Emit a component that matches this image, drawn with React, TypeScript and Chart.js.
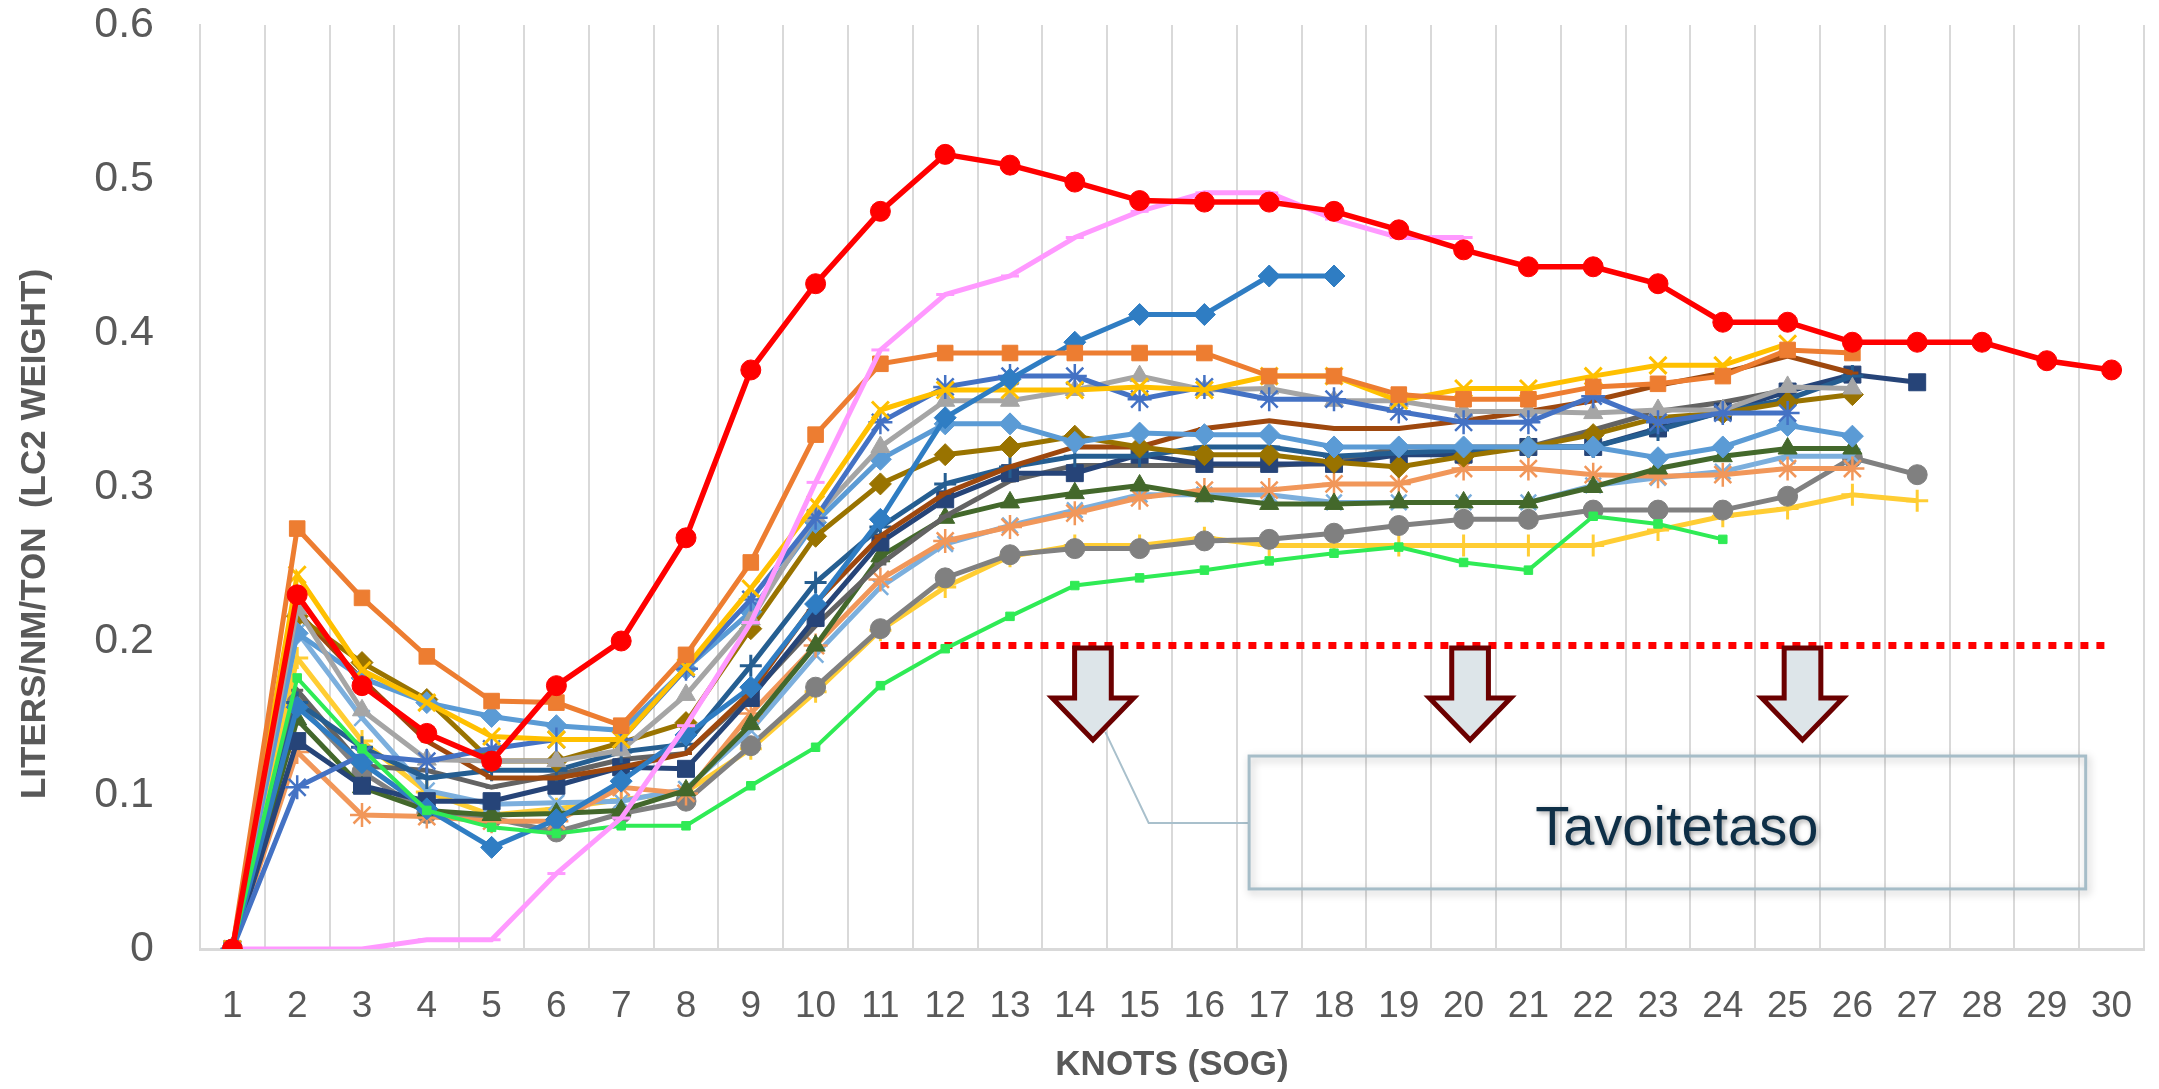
import React, { useEffect, useRef } from 'react';
import { Chart, registerables } from 'chart.js';

Chart.register(...registerables);

// ---------- data ----------
const KNOTS = ['1', '2', '3', '4', '5', '6', '7', '8', '9', '10', '11', '12', '13', '14', '15', '16', '17', '18', '19', '20', '21', '22', '23', '24', '25', '26', '27', '28', '29', '30'];

const redCircle = [0, 0.230, 0.171, 0.140, 0.122, 0.171, 0.200, 0.267, 0.376, 0.432, 0.479, 0.516, 0.509, 0.498, 0.486, 0.485, 0.485, 0.479, 0.467, 0.454, 0.443, 0.443, 0.432, 0.407, 0.407, 0.394, 0.394, 0.394, 0.382, 0.376];
const pinkDash = [0, 0, 0, 0.006, 0.006, 0.049, 0.085, 0.145, 0.212, 0.303, 0.389, 0.425, 0.437, 0.462, 0.479, 0.491, 0.491, 0.474, 0.462, 0.462];
const brightGreen = [0, 0.176, 0.130, 0.090, 0.079, 0.075, 0.080, 0.080, 0.106, 0.131, 0.171, 0.195, 0.216, 0.236, 0.241, 0.246, 0.252, 0.257, 0.261, 0.251, 0.246, 0.281, 0.276, 0.266];
const orangeSquare = [0, 0.273, 0.228, 0.190, 0.161, 0.160, 0.145, 0.191, 0.251, 0.334, 0.380, 0.387, 0.387, 0.387, 0.387, 0.387, 0.372, 0.372, 0.360, 0.357, 0.357, 0.365, 0.367, 0.372, 0.389, 0.387];
const blueDiamond = [0, 0.157, 0.121, 0.091, 0.066, 0.084, 0.109, 0.139, 0.170, 0.224, 0.279, 0.345, 0.370, 0.394, 0.412, 0.412, 0.437, 0.437];
const goldX = [0, 0.243, 0.181, 0.160, 0.138, 0.136, 0.136, 0.183, 0.234, 0.289, 0.350, 0.363, 0.363, 0.363, 0.365, 0.363, 0.372, 0.372, 0.356, 0.364, 0.364, 0.372, 0.379, 0.379, 0.393];
const blueAsterisk = [0, 0.105, 0.126, 0.122, 0.130, 0.136, 0.136, 0.182, 0.227, 0.280, 0.342, 0.365, 0.372, 0.372, 0.357, 0.365, 0.357, 0.357, 0.349, 0.342, 0.342, 0.359, 0.342, 0.348, 0.348];
const grayTriangle = [0, 0.221, 0.155, 0.123, 0.122, 0.122, 0.129, 0.165, 0.214, 0.281, 0.326, 0.356, 0.356, 0.363, 0.372, 0.363, 0.364, 0.356, 0.356, 0.349, 0.349, 0.348, 0.350, 0.350, 0.365, 0.364];
const lightBlueDiamond = [0, 0.205, 0.176, 0.160, 0.151, 0.145, 0.142, 0.182, 0.219, 0.277, 0.318, 0.341, 0.341, 0.329, 0.335, 0.334, 0.334, 0.326, 0.326, 0.326, 0.326, 0.326, 0.319, 0.326, 0.340, 0.333];
const darkGoldDiamond = [0, 0.216, 0.186, 0.162, 0.122, 0.122, 0.134, 0.147, 0.208, 0.268, 0.302, 0.321, 0.326, 0.333, 0.326, 0.321, 0.321, 0.316, 0.313, 0.320, 0.326, 0.334, 0.345, 0.348, 0.355, 0.360];
const brownDash = [0, 0.219, 0.175, 0.135, 0.111, 0.111, 0.118, 0.127, 0.167, 0.225, 0.268, 0.296, 0.313, 0.326, 0.326, 0.338, 0.343, 0.338, 0.338, 0.343, 0.349, 0.356, 0.366, 0.374, 0.385, 0.374];
const darkBluePlus = [0, 0.160, 0.131, 0.111, 0.116, 0.116, 0.128, 0.133, 0.184, 0.238, 0.274, 0.302, 0.313, 0.320, 0.320, 0.326, 0.326, 0.320, 0.322, 0.324, 0.326, 0.326, 0.337, 0.349, 0.357, 0.372];
const navySquare = [0, 0.135, 0.106, 0.096, 0.096, 0.106, 0.118, 0.117, 0.163, 0.215, 0.264, 0.292, 0.309, 0.309, 0.321, 0.315, 0.315, 0.315, 0.321, 0.321, 0.326, 0.326, 0.338, 0.349, 0.362, 0.373, 0.368];
const darkGrayDash = [0, 0.168, 0.119, 0.116, 0.105, 0.113, 0.123, 0.127, 0.165, 0.210, 0.250, 0.281, 0.304, 0.314, 0.314, 0.314, 0.314, 0.316, 0.326, 0.326, 0.326, 0.337, 0.349, 0.355, 0.363];
const darkGreenTriangle = [0, 0.149, 0.105, 0.090, 0.087, 0.088, 0.090, 0.103, 0.146, 0.197, 0.255, 0.280, 0.290, 0.296, 0.301, 0.294, 0.289, 0.289, 0.290, 0.290, 0.290, 0.300, 0.312, 0.320, 0.325, 0.325];
const lightOrangeAsterisk = [0, 0.128, 0.087, 0.086, 0.083, 0.083, 0.105, 0.101, 0.153, 0.197, 0.240, 0.265, 0.274, 0.283, 0.293, 0.298, 0.298, 0.302, 0.302, 0.312, 0.312, 0.308, 0.307, 0.308, 0.312, 0.312];
const lightBlueX = [0, 0.206, 0.150, 0.103, 0.094, 0.095, 0.096, 0.104, 0.142, 0.191, 0.235, 0.263, 0.275, 0.285, 0.295, 0.295, 0.295, 0.290, 0.290, 0.290, 0.290, 0.301, 0.306, 0.310, 0.320, 0.320];
const grayCircle = [0, 0.160, 0.115, 0.088, 0.085, 0.076, 0.088, 0.096, 0.132, 0.170, 0.208, 0.241, 0.256, 0.260, 0.260, 0.265, 0.266, 0.270, 0.275, 0.279, 0.279, 0.285, 0.285, 0.285, 0.294, 0.319, 0.308];
const yellowPlus = [0, 0.189, 0.135, 0.102, 0.087, 0.091, 0.097, 0.102, 0.130, 0.167, 0.207, 0.235, 0.255, 0.262, 0.262, 0.267, 0.262, 0.262, 0.262, 0.262, 0.262, 0.262, 0.272, 0.281, 0.286, 0.295, 0.291];
const targetLevel = [null, null, null, null, null, null, null, null, null, null, 0.197, 0.197, 0.197, 0.197, 0.197, 0.197, 0.197, 0.197, 0.197, 0.197, 0.197, 0.197, 0.197, 0.197, 0.197, 0.197, 0.197, 0.197, 0.197, 0.197];

const Y_TITLE = 'LITERS/NM/TON  (LC2 WEIGHT)';
const X_TITLE = 'KNOTS (SOG)';
const NOTE_TEXT = 'Tavoitetaso';

// annotation anchors (category index, value)
const ARROW_IDX = [13.28, 19.1, 24.23];
const ARROW_TOP = 0.1955;
const ARROW_NECK = 0.163;
const ARROW_TIP = 0.1357;
const BOX_LEFT = 15.69;
const BOX_RIGHT = 28.6;
const BOX_TOP = 0.1253;
const BOX_BOTTOM = 0.039;
const CALLOUT = [[13.47, 0.141], [14.14, 0.0818], [15.69, 0.0818]];
const NOTE_POS = [22.29, 0.0675];

const FONT = "'Liberation Sans', Arial, sans-serif";
const GRID = '#D9D9D9';
const AXIS_TEXT = '#595959';

function series(label: string, data: (number | null)[], color: string, pointStyle: string, radius: number, width: number, pbw: number) {
  const filled = ['circle', 'rect', 'rectRot', 'triangle'].includes(pointStyle);
  return {
    label,
    data,
    borderColor: color,
    backgroundColor: color,
    borderWidth: width,
    pointStyle,
    pointRadius: radius,
    pointBorderWidth: pbw,
    pointBackgroundColor: filled ? color : 'transparent',
    pointBorderColor: color,
    tension: 0,
    fill: false,
    spanGaps: false,
  };
}

const annotationPlugin = {
  id: 'annotations',
  afterDatasetsDraw(chart: any) {
    const { ctx, scales } = chart;
    const xs = scales.x;
    const ys = scales.y;
    const X = (i: number) => xs.getPixelForValue(i);
    const Y = (v: number) => ys.getPixelForValue(v);
    const cw = X(1) - X(0);
    ctx.save();
    // callout line
    ctx.beginPath();
    ctx.strokeStyle = '#A9C0CC';
    ctx.lineWidth = 2;
    CALLOUT.forEach((p, k) => {
      if (k === 0) ctx.moveTo(X(p[0]), Y(p[1]));
      else ctx.lineTo(X(p[0]), Y(p[1]));
    });
    ctx.stroke();
    // box
    const bl = X(BOX_LEFT), br = X(BOX_RIGHT), bt = Y(BOX_TOP), bb = Y(BOX_BOTTOM);
    ctx.save();
    ctx.shadowColor = 'rgba(0,0,0,0.25)';
    ctx.shadowBlur = 8;
    ctx.shadowOffsetX = 2;
    ctx.shadowOffsetY = 3;
    ctx.strokeStyle = '#A6BDC8';
    ctx.lineWidth = 3;
    ctx.strokeRect(bl, bt, br - bl, bb - bt);
    ctx.restore();
    // arrows
    ARROW_IDX.forEach((ai) => {
      const cx = X(ai);
      const sw = cw * 0.283;
      const hw = cw * 0.628;
      const top = Y(ARROW_TOP), neck = Y(ARROW_NECK), tip = Y(ARROW_TIP);
      ctx.beginPath();
      ctx.moveTo(cx - sw, top);
      ctx.lineTo(cx + sw, top);
      ctx.lineTo(cx + sw, neck);
      ctx.lineTo(cx + hw, neck);
      ctx.lineTo(cx, tip);
      ctx.lineTo(cx - hw, neck);
      ctx.lineTo(cx - sw, neck);
      ctx.closePath();
      ctx.fillStyle = '#DDE5E9';
      ctx.fill();
      ctx.lineJoin = 'miter';
      ctx.lineWidth = 5;
      ctx.strokeStyle = '#6B0000';
      ctx.stroke();
    });
    // note text
    ctx.save();
    ctx.shadowColor = 'rgba(0,0,0,0.35)';
    ctx.shadowBlur = 5;
    ctx.shadowOffsetX = 2;
    ctx.shadowOffsetY = 2;
    ctx.fillStyle = '#0E2F47';
    ctx.font = `56px ${FONT}`;
    ctx.textAlign = 'center';
    ctx.textBaseline = 'alphabetic';
    ctx.fillText(NOTE_TEXT, X(NOTE_POS[0]), Y(NOTE_POS[1]));
    ctx.restore();
    ctx.restore();
  },
  afterDraw(chart: any) {
    const { ctx, chartArea } = chart;
    ctx.save();
    ctx.fillStyle = AXIS_TEXT;
    ctx.font = `bold 35px ${FONT}`;
    ctx.textAlign = 'center';
    ctx.textBaseline = 'middle';
    ctx.fillText(X_TITLE, (chartArea.left + chartArea.right) / 2, 1065);
    ctx.translate(35, 534);
    ctx.rotate(-Math.PI / 2);
    ctx.fillText(Y_TITLE, 0, 0);
    ctx.restore();
  },
};

export default function App() {
  const ref = useRef<HTMLCanvasElement | null>(null);

  useEffect(() => {
    document.body.style.margin = '0';
    const canvas = ref.current;
    if (!canvas) return;
    const datasets: any[] = [
      series('Red', redCircle, '#FF0000', 'circle', 10, 5.5, 1),
      series('Pink', pinkDash, '#FF99FF', 'line', 9, 5, 3),
      series('Green', brightGreen, '#2FEB55', 'rect', 6, 4, 1),
      series('Orange', orangeSquare, '#ED7D31', 'rect', 11, 5, 1),
      series('Blue', blueDiamond, '#2F7DC3', 'rectRot', 11, 5, 1),
      series('Gold', goldX, '#FFC000', 'crossRot', 12, 5, 3),
      series('BlueAst', blueAsterisk, '#4472C4', 'star', 12, 5, 2.5),
      series('Gray', grayTriangle, '#A5A5A5', 'triangle', 11, 5, 1),
      series('LightBlue', lightBlueDiamond, '#5B9BD5', 'rectRot', 11, 5, 1),
      series('DarkGold', darkGoldDiamond, '#997300', 'rectRot', 11, 5, 1),
      series('Brown', brownDash, '#9E480E', 'line', 6, 5, 3),
      series('DarkBlue', darkBluePlus, '#255E91', 'cross', 11, 5, 3),
      series('Navy', navySquare, '#264478', 'rect', 12, 5, 1),
      series('DarkGray', darkGrayDash, '#636363', 'line', 6, 5, 3),
      series('DarkGreen', darkGreenTriangle, '#43682B', 'triangle', 11, 5, 1),
      series('LightOrange', lightOrangeAsterisk, '#F1975A', 'star', 12, 5, 2.5),
      series('LightBlueX', lightBlueX, '#7CAFDD', 'crossRot', 11, 5, 2.5),
      series('GrayCircle', grayCircle, '#808080', 'circle', 10, 5, 1),
      series('Yellow', yellowPlus, '#FFCD33', 'cross', 11, 5, 3),
      {
        label: 'Target',
        data: targetLevel,
        borderColor: '#FF0000',
        borderWidth: 7,
        borderDash: [8, 8],
        borderCapStyle: 'butt',
        pointRadius: 0,
        fill: false,
        tension: 0,
      },
    ];

    const chart = new Chart(canvas, {
      type: 'line',
      data: { labels: KNOTS, datasets },
      options: {
        responsive: false,
        maintainAspectRatio: false,
        animation: false,
        devicePixelRatio: 1,
        layout: { padding: { top: 25, right: 0, bottom: 0, left: 0 } },
        plugins: {
          legend: { display: false },
          tooltip: { enabled: false },
          title: { display: false },
        },
        scales: {
          x: {
            type: 'category',
            offset: true,
            grid: { display: true, offset: true, color: GRID, lineWidth: 2, drawTicks: false },
            border: { display: true, color: GRID, width: 3 },
            ticks: {
              color: AXIS_TEXT,
              font: { family: FONT, size: 37 },
              padding: 36,
              maxRotation: 0,
              minRotation: 0,
              autoSkip: false,
            },
            afterFit: (s: any) => {
              s.height = 140;
              s.paddingLeft = 0;
              s.paddingRight = 0;
            },
          },
          y: {
            min: 0,
            max: 0.6,
            grid: { display: false, drawTicks: false },
            border: { display: true, color: GRID, width: 2 },
            ticks: {
              stepSize: 0.1,
              color: AXIS_TEXT,
              font: { family: FONT, size: 43 },
              padding: 46,
            },
            afterFit: (s: any) => {
              s.width = 200;
              s.paddingTop = 0;
              s.paddingBottom = 0;
            },
          },
        },
      } as any,
      plugins: [annotationPlugin],
    });
    return () => chart.destroy();
  }, []);

  return (
    <div style={{ width: 2159, height: 1089, position: 'relative', background: '#FFFFFF' }}>
      <canvas ref={ref} width={2159} height={1089} style={{ display: 'block' }} />
    </div>
  );
}
